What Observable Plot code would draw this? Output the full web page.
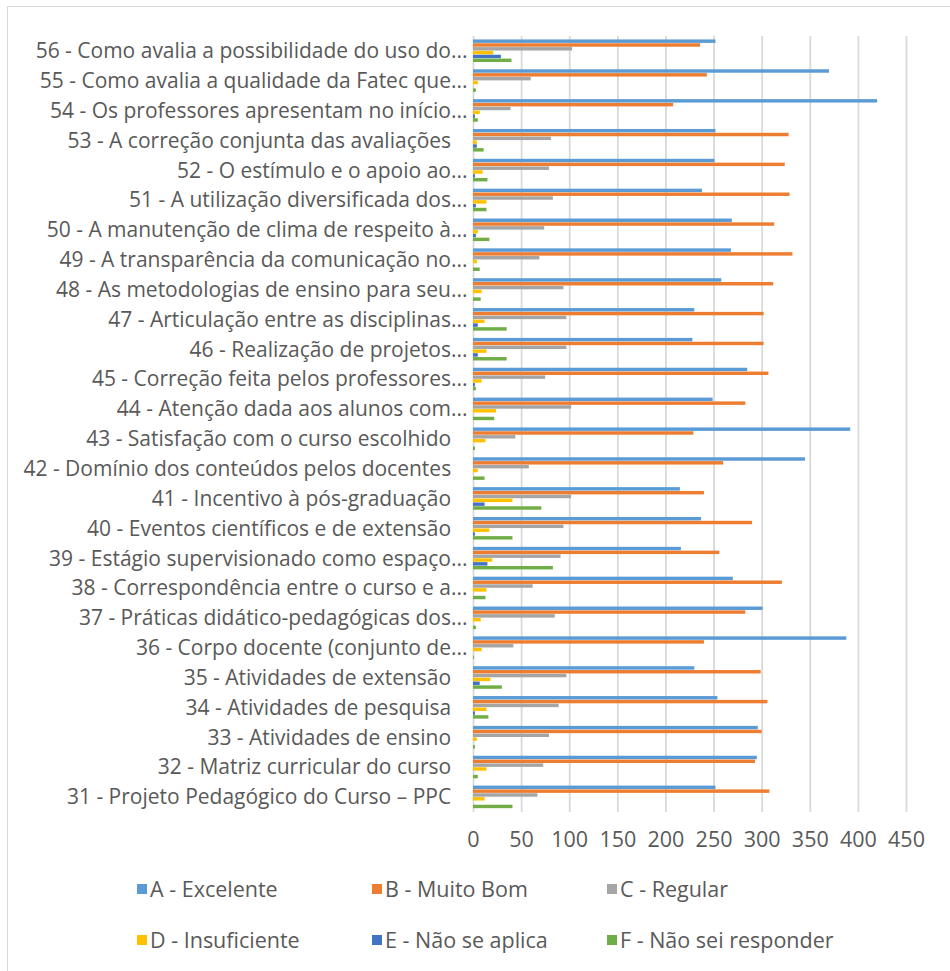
<!DOCTYPE html>
<html>
<head>
<meta charset="utf-8">
<script src="https://cdn.jsdelivr.net/npm/d3@7"></script>
<script src="https://cdn.jsdelivr.net/npm/@observablehq/plot@0.6"></script>
<style>
  html, body { margin: 0; padding: 0; background: #fff; overflow: hidden; width: 950px; height: 971px; }
  body { font-family: "Open Sans", sans-serif; color: #595959; position: relative; }
  #frame { position: absolute; left: 7px; top: 6px; width: 1000px; height: 1000px; border: 1px solid #d9d9d9; box-sizing: border-box; }
  #chart { position: absolute; left: 0; top: 0; }
  #legend { position: absolute; left: 137px; top: 863px; width: 720px; }
  .row { display: flex; height: 51px; align-items: center; }
  .item { width: 235px; display: flex; align-items: center; font-size: 21.5px; white-space: nowrap; }
  .sw { width: 10px; height: 10px; margin-right: 3px; display: inline-block; }
</style>
</head>
<body>
<div id="frame"></div>
<div id="chart"></div>
<div id="legend"></div>
<script>
// Categories, top to bottom
const categories = [
  "56 - Como avalia a possibilidade do uso do...",
  "55 - Como avalia a qualidade da Fatec que...",
  "54 - Os professores apresentam no início...",
  "53 - A correção conjunta das avaliações",
  "52 - O estímulo e o apoio ao...",
  "51 - A utilização diversificada dos...",
  "50 - A manutenção de clima de respeito à...",
  "49 - A transparência da comunicação no...",
  "48 - As metodologias de ensino para seu...",
  "47 - Articulação entre as disciplinas...",
  "46 - Realização de projetos...",
  "45 - Correção feita pelos professores...",
  "44 - Atenção dada aos alunos com...",
  "43 - Satisfação com o curso escolhido",
  "42 - Domínio dos conteúdos pelos docentes",
  "41 - Incentivo à pós-graduação",
  "40 - Eventos científicos e de extensão",
  "39 - Estágio supervisionado como espaço...",
  "38 - Correspondência entre o curso e a...",
  "37 - Práticas didático-pedagógicas dos...",
  "36 - Corpo docente (conjunto de...",
  "35 - Atividades de extensão",
  "34 - Atividades de pesquisa",
  "33 - Atividades de ensino",
  "32 - Matriz curricular do curso",
  "31 - Projeto Pedagógico do Curso – PPC"
];

const seriesNames = ["A - Excelente", "B - Muito Bom", "C - Regular", "D - Insuficiente", "E - Não se aplica", "F - Não sei responder"];
const seriesColors = ["#5B9BD5", "#ED7D31", "#A5A5A5", "#FFC000", "#4472C4", "#70AD47"];

const excelente    = [252, 370, 420, 252, 251, 238, 269, 268, 258, 230, 228, 285, 249, 392, 345, 215, 237, 216, 270, 301, 388, 230, 254, 296, 295, 252];
const muitoBom     = [236, 243, 208, 328, 324, 329, 313, 332, 312, 302, 302, 307, 283, 229, 260, 240, 290, 256, 321, 283, 240, 299, 306, 300, 293, 308];
const regular      = [103,  60,  39,  81,  79,  83,  74,  69,  94,  97,  97,  75, 102,  44,  58, 102,  94,  91,  62,  85,  42,  97,  89,  79,  73,  67];
const insuficiente = [ 21,   5,   7,   4,  10,  14,   5,   4,   9,  12,  14,   9,  24,  13,   5,  41,  17,  20,  14,   8,   9,  18,  14,   4,  14,  12];
const naoSeAplica  = [ 29,   0,   2,   4,   2,   3,   3,   0,   0,   5,   5,   2,   0,   0,   0,  12,   2,  15,   0,   0,   0,   7,   2,   0,   0,   0];
const naoSei       = [ 40,   3,   5,  11,  15,  14,  17,   7,   8,  35,  35,   3,  22,   2,  12,  71,  41,  83,  13,   3,   1,  30,  16,   2,   5,  41];

const xTicks = [0, 50, 100, 150, 200, 250, 300, 350, 400, 450];

const seriesValues = [excelente, muitoBom, regular, insuficiente, naoSeAplica, naoSei];

// Build table: each category occupies [i, i+1] on a linear y scale
const groupPad = 0.115;
const slot = (1 - 2 * groupPad) / seriesNames.length;
const table = [];
categories.forEach((c, i) => {
  seriesValues.forEach((vals, j) => {
    const y1 = i + groupPad + j * slot;
    table.push({category: c, series: seriesNames[j], value: vals[i], y1, y2: y1 + slot * 0.9});
  });
});
const centers = categories.map((c, i) => i + 0.5);
const labelFor = (v) => {
  const c = categories[Math.round(v - 0.5)];
  return c.endsWith("...") ? c : c + "\u00A0\u00A0\u00A0";
};

const chart = Plot.plot({
  width: 950,
  height: 860,
  marginLeft: 473,
  marginRight: 44,
  marginTop: 36,
  marginBottom: 48,
  style: {fontFamily: "'Open Sans', sans-serif", fontSize: "21px", color: "#595959", background: "transparent", overflow: "visible"},
  x: {domain: [0, 450]},
  y: {domain: [0, categories.length], reverse: true, axis: null},
  color: {domain: seriesNames, range: seriesColors},
  marks: [
    Plot.gridX(xTicks, {stroke: "#d9d9d9", strokeOpacity: 1, strokeWidth: 1.8}),
    Plot.rect(table, {x1: () => 0, x2: "value", y1: "y1", y2: "y2", fill: "series"}),
    Plot.axisX(xTicks, {anchor: "bottom", tickSize: 0, tickPadding: 19, fontSize: 21.5, fill: "#595959", label: null}),
    Plot.axisY(centers, {anchor: "left", tickSize: 0, tickPadding: 6, fontSize: 21, fill: "#595959", tickFormat: labelFor, label: null, textOverflow: null, lineWidth: Infinity})
  ]
});
document.getElementById("chart").appendChild(chart);

// Legend
const legend = document.getElementById("legend");
for (let r = 0; r < 2; r++) {
  const row = document.createElement("div");
  row.className = "row";
  for (let k = 0; k < 3; k++) {
    const idx = r * 3 + k;
    const item = document.createElement("div");
    item.className = "item";
    const sw = document.createElement("span");
    sw.className = "sw";
    sw.style.background = seriesColors[idx];
    item.appendChild(sw);
    item.appendChild(document.createTextNode(seriesNames[idx]));
    row.appendChild(item);
  }
  legend.appendChild(row);
}
</script>
</body>
</html>
